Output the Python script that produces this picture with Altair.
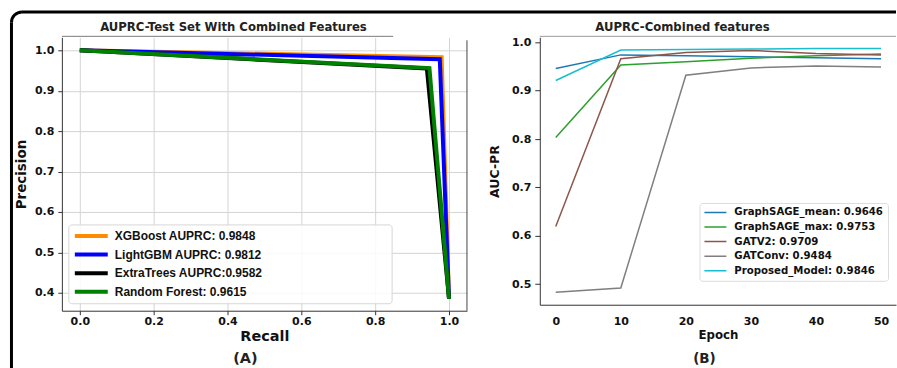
import altair as alt
import pandas as pd

# ---------------- Panel A data ----------------
models_a = ["XGBoost AUPRC: 0.9848", "LightGBM AUPRC: 0.9812",
            "ExtraTrees AUPRC:0.9582", "Random Forest: 0.9615"]
colors_a = ["#ff8c00", "#0000ff", "#000000", "#008000"]
recall_xgb = [0.0, 0.980, 1.0]
prec_xgb = [1.0, 0.983, 0.385]
recall_lgb = [0.0, 0.975, 1.0]
prec_lgb = [1.0, 0.978, 0.385]
recall_et = [0.0, 0.940, 1.0]
prec_et = [1.0, 0.955, 0.385]
recall_rf = [0.0, 0.947, 1.0]
prec_rf = [1.0, 0.956, 0.385]
x_ticks_a = [0.0, 0.2, 0.4, 0.6, 0.8, 1.0]
y_ticks_a = [0.4, 0.5, 0.6, 0.7, 0.8, 0.9, 1.0]
title_a = "AUPRC-Test Set With Combined Features"

# ---------------- Panel B data ----------------
models_b = ["GraphSAGE_mean: 0.9646", "GraphSAGE_max: 0.9753", "GATV2: 0.9709",
            "GATConv: 0.9484", "Proposed_Model: 0.9846"]
colors_b = ["#1f77b4", "#2ca02c", "#8c564b", "#7f7f7f", "#17becf"]
epochs = [0, 10, 20, 30, 40, 50]
auc_mean = [0.946, 0.974, 0.972, 0.970, 0.968, 0.966]
auc_max = [0.803, 0.953, 0.960, 0.967, 0.972, 0.976]
auc_gatv2 = [0.619, 0.966, 0.979, 0.983, 0.977, 0.974]
auc_gatconv = [0.483, 0.492, 0.932, 0.947, 0.951, 0.949]
auc_proposed = [0.921, 0.984, 0.985, 0.986, 0.987, 0.987]
x_ticks_b = [0, 10, 20, 30, 40, 50]
y_ticks_b = [0.5, 0.6, 0.7, 0.8, 0.9, 1.0]
title_b = "AUPRC-Combined features"

rows_a = []
for name, rs, ps in zip(models_a,
                        [recall_xgb, recall_lgb, recall_et, recall_rf],
                        [prec_xgb, prec_lgb, prec_et, prec_rf]):
    for r, p in zip(rs, ps):
        rows_a.append({"model": name, "recall": r, "precision": p})
df_a = pd.DataFrame(rows_a)

rows_b = []
for name, vals in zip(models_b, [auc_mean, auc_max, auc_gatv2, auc_gatconv, auc_proposed]):
    for e, v in zip(epochs, vals):
        rows_b.append({"model": name, "epoch": e, "auc": v})
df_b = pd.DataFrame(rows_b)

one = pd.DataFrame({"k": [1]})
FONT = "DejaVu Sans"
W_A, H_A = 406, 274
W_B, H_B = 357, 268

# ---------------- Panel A chart ----------------
lines_a = alt.Chart(df_a).mark_line(strokeWidth=4).encode(
    x=alt.X("recall:Q",
            scale=alt.Scale(domain=[-0.0486, 1.0486], nice=False, zero=False),
            axis=alt.Axis(values=x_ticks_a, format=".1f", title="Recall", grid=True,
                          gridColor="#d4d4d4", labelFont=FONT, labelFontSize=11,
                          labelFontWeight="bold", labelColor="#111", tickSize=4,
                          tickColor="#333", domainColor="#333", labelPadding=1,
                          titleFont=FONT, titleFontSize=14.5, titleFontWeight="bold",
                          titleColor="#111", titlePadding=3)),
    y=alt.Y("precision:Q",
            scale=alt.Scale(domain=[0.3556, 1.0321], nice=False, zero=False),
            axis=alt.Axis(values=y_ticks_a, format=".1f", title="Precision", grid=True,
                          gridColor="#d4d4d4", labelFont=FONT, labelFontSize=11,
                          labelFontWeight="bold", labelColor="#111", tickSize=4,
                          tickColor="#333", domainColor="#333", labelPadding=4,
                          titleFont=FONT, titleFontSize=13.5, titleFontWeight="bold",
                          titleColor="#111", titlePadding=6)),
    color=alt.Color("model:N",
                    scale=alt.Scale(domain=models_a, range=colors_a),
                    legend=alt.Legend(title=None, orient="none", legendX=11, legendY=193,
                                      padding=0, symbolType="stroke", symbolSize=1089,
                                      symbolStrokeWidth=4, clipHeight=12, rowPadding=6.7,
                                      labelFont="Liberation Sans", labelFontSize=12,
                                      labelFontWeight="bold", labelColor="#111",
                                      labelOffset=5, labelLimit=0)),
)

box_a = alt.Chart(one).mark_rect(fill="white", fillOpacity=0.85, stroke="#d6d6d6",
                                 strokeWidth=1, cornerRadius=3).encode(
    x=alt.value(7), x2=alt.value(331), y=alt.value(188), y2=alt.value(267))

top_line_a = alt.Chart(one).mark_rule(color="#7a7a7a", strokeWidth=1).encode(
    x=alt.value(0), x2=alt.value(332), y=alt.value(-1))
right_spine_a = alt.Chart(one).mark_rule(color="#444", strokeWidth=1).encode(
    x=alt.value(W_A), y=alt.value(3), y2=alt.value(H_A))

border_top = alt.Chart(one).mark_rect(color="#000").encode(
    x=alt.value(-40), x2=alt.value(836), y=alt.value(-27), y2=alt.value(-24))
border_left = alt.Chart(one).mark_rect(color="#000").encode(
    x=alt.value(-52), x2=alt.value(-49), y=alt.value(-15), y2=alt.value(332))
border_corner = alt.Chart(one).mark_arc(color="#000", radius=12, radius2=9,
                                        theta=4.712389, theta2=6.283185).encode(
    x=alt.value(-40), y=alt.value(-15))

head_a = alt.Chart(one).mark_text(text=title_a, font=FONT, fontSize=11.7,
                                  fontWeight="bold", color="#222",
                                  baseline="alphabetic", align="center").encode(
    x=alt.value(172), y=alt.value(-6.5))

label_a = alt.Chart(one).mark_text(text="(A)", font=FONT, fontSize=14.5,
                                   fontWeight="bold", color="#222",
                                   baseline="middle", align="center").encode(
    x=alt.value(184), y=alt.value(322))

chart_a = alt.layer(lines_a, box_a, top_line_a, right_spine_a,
                    border_top, border_left, border_corner, head_a, label_a).properties(
    width=W_A, height=H_A)

# ---------------- Panel B chart ----------------
lines_b = alt.Chart(df_b).mark_line(strokeWidth=1.5).encode(
    x=alt.X("epoch:Q",
            scale=alt.Scale(domain=[-2.45, 52.3], nice=False, zero=False),
            axis=alt.Axis(values=x_ticks_b, format="d", title="Epoch", grid=False,
                          ticks=False, labelPadding=11, labelFont=FONT, labelFontSize=11,
                          labelFontWeight="bold", labelColor="#111", domainColor="#333",
                          titleFont=FONT, titleFontSize=11.8, titleFontWeight="bold",
                          titleColor="#111", titlePadding=3)),
    y=alt.Y("auc:Q",
            scale=alt.Scale(domain=[0.4573, 1.0103], nice=False, zero=False),
            axis=alt.Axis(values=y_ticks_b, format=".1f", title="AUC-PR", grid=False,
                          tickSize=5, tickColor="#333", labelPadding=4, labelFont=FONT,
                          labelFontSize=11, labelFontWeight="bold", labelColor="#111",
                          domainColor="#333", titleFont=FONT, titleFontSize=12.5,
                          titleFontWeight="bold", titleColor="#111", titlePadding=10)),
    color=alt.Color("model:N",
                    scale=alt.Scale(domain=models_b, range=colors_b),
                    legend=alt.Legend(title=None, orient="none", legendX=160, legendY=166,
                                      padding=4, fillColor="white", strokeColor="#dcdcdc",
                                      cornerRadius=3, symbolType="stroke", symbolSize=484,
                                      symbolStrokeWidth=1.5, clipHeight=11, rowPadding=3.6,
                                      labelFont=FONT, labelFontSize=10.2,
                                      labelFontWeight="bold", labelColor="#111",
                                      labelOffset=7, labelLimit=0)),
)

top_line_b = alt.Chart(one).mark_rule(color="#9a9a9a", strokeWidth=1).encode(
    x=alt.value(0), x2=alt.value(W_B), y=alt.value(-1))

head_b = alt.Chart(one).mark_text(text=title_b, font=FONT, fontSize=11.7,
                                  fontWeight="bold", color="#222",
                                  baseline="alphabetic", align="center").encode(
    x=alt.value(143), y=alt.value(-6))

label_b = alt.Chart(one).mark_text(text="(B)", font=FONT, fontSize=13.5,
                                   fontWeight="bold", color="#222",
                                   baseline="middle", align="center").encode(
    x=alt.value(165), y=alt.value(322))

chart_b = alt.layer(lines_b, top_line_b, head_b, label_b).properties(
    width=W_B, height=H_B)

chart = alt.hconcat(chart_a, chart_b, spacing=73, bounds="flush").resolve_scale(
    color="independent").properties(
    padding={"left": 9, "top": 9, "right": 0, "bottom": 0}).configure(
    font=FONT).configure_view(stroke="transparent")

chart.save("out.html", embed_options={"renderer": "svg", "actions": False})
